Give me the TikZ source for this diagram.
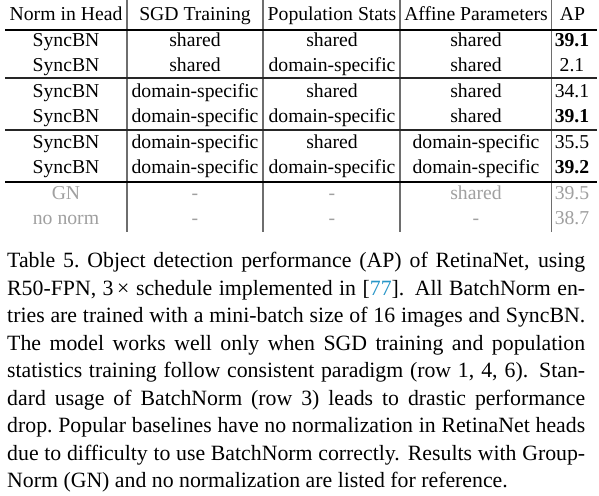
\documentclass[tikz,border=0pt]{standalone}
\usepackage{fontspec}
\setmainfont{Liberation Serif}
\definecolor{citeblue}{RGB}{40,150,200}
\definecolor{dimgray}{RGB}{160,160,160}
\definecolor{vlinegray}{RGB}{110,110,110}
\begin{document}
\begin{tikzpicture}[x=1pt,y=-1pt,
  cell/.style={anchor=base, inner sep=0pt, font=\fontsize{19.7}{24}\selectfont},
  dimcell/.style={cell, text=dimgray},
  capline/.style={anchor=base west, inner sep=0pt, font=\fontsize{21.8}{27.5}\selectfont},
  thickrule/.style={line width=2.4pt, black},
  thinrule/.style={line width=1.1pt, black!85},
  colrule/.style={line width=1.2pt, vlinegray}]
\useasboundingbox (0,0) rectangle (599,495);
\fill[white] (0,0) rectangle (599,495);

% column separators
\draw[colrule] (127,0) -- (127,232);
\draw[colrule] (263,0) -- (263,232);
\draw[colrule] (400,0) -- (400,232);
\draw[colrule] (551.5,0) -- (551.5,232);

% horizontal rules
\draw[thickrule] (5,30) -- (597,30);
\draw[thinrule] (5,78) -- (597,78);
\draw[thinrule] (5,130) -- (597,130);
\draw[thickrule] (5,182) -- (597,182);

% header
\node[cell] (h1) at (66,20.5) {Norm in Head};
\node[cell] (h2) at (195,20.5) {SGD Training};
\node[cell] (h3) at (332,20.5) {Population Stats};
\node[cell] (h4) at (476,20.5) {Affine Parameters};
\node[cell] (h5) at (572.5,20.5) {AP};

% row 1
\node[cell] (r1c1) at (66,46) {SyncBN};
\node[cell] (r1c2) at (195,46) {shared};
\node[cell] (r1c3) at (332,46) {shared};
\node[cell] (r1c4) at (476,46) {shared};
\node[cell] (r1c5) at (572,46) {\textbf{39.1}};
% row 2
\node[cell] (r2c1) at (66,71.5) {SyncBN};
\node[cell] (r2c2) at (195,71.5) {shared};
\node[cell] (r2c3) at (332,71.5) {domain-specific};
\node[cell] (r2c4) at (476,71.5) {shared};
\node[cell] (r2c5) at (572,71.5) {2.1};
% row 3
\node[cell] (r3c1) at (66,97.5) {SyncBN};
\node[cell] (r3c2) at (195,97.5) {domain-specific};
\node[cell] (r3c3) at (332,97.5) {shared};
\node[cell] (r3c4) at (476,97.5) {shared};
\node[cell] (r3c5) at (572,97.5) {34.1};
% row 4
\node[cell] (r4c1) at (66,122.5) {SyncBN};
\node[cell] (r4c2) at (195,122.5) {domain-specific};
\node[cell] (r4c3) at (332,122.5) {domain-specific};
\node[cell] (r4c4) at (476,122.5) {shared};
\node[cell] (r4c5) at (572,122.5) {\textbf{39.1}};
% row 5
\node[cell] (r5c1) at (66,148) {SyncBN};
\node[cell] (r5c2) at (195,148) {domain-specific};
\node[cell] (r5c3) at (332,148) {shared};
\node[cell] (r5c4) at (476,148) {domain-specific};
\node[cell] (r5c5) at (572,148) {35.5};
% row 6
\node[cell] (r6c1) at (66,173) {SyncBN};
\node[cell] (r6c2) at (195,173) {domain-specific};
\node[cell] (r6c3) at (332,173) {domain-specific};
\node[cell] (r6c4) at (476,173) {domain-specific};
\node[cell] (r6c5) at (572,173) {\textbf{39.2}};
% row 7
\node[dimcell] (r7c1) at (66,199.5) {GN};
\node[dimcell] (r7c2) at (195,199.5) {-};
\node[dimcell] (r7c3) at (332,199.5) {-};
\node[dimcell] (r7c4) at (476,199.5) {shared};
\node[dimcell] (r7c5) at (572,199.5) {39.5};
% row 8
\node[dimcell] (r8c1) at (66,224.5) {no norm};
\node[dimcell] (r8c2) at (195,224.5) {-};
\node[dimcell] (r8c3) at (332,224.5) {-};
\node[dimcell] (r8c4) at (476,224.5) {-};
\node[dimcell] (r8c5) at (572,224.5) {38.7};

% caption
\node[capline] (cap1) at (7,267.7) {\hbox to 578pt{Table 5.\ Object detection performance (AP) of RetinaNet, using}};
\node[capline] (cap2) at (7,295.2) {\hbox to 578pt{R50-FPN, 3\,× schedule implemented in [{\color{citeblue}77}]. All BatchNorm en-}};
\node[capline] (cap3) at (7,322.7) {\hbox to 578pt{tries are trained with a mini-batch size of 16 images and SyncBN.}};
\node[capline] (cap4) at (7,350.2) {\hbox to 578pt{The model works well only when SGD training and population}};
\node[capline] (cap5) at (7,377.7) {\hbox to 578pt{statistics training follow consistent paradigm (row 1, 4, 6). Stan-}};
\node[capline] (cap6) at (7,405.2) {\hbox to 578pt{dard usage of BatchNorm (row 3) leads to drastic performance}};
\node[capline] (cap7) at (7,432.7) {\hbox to 578pt{drop.\ Popular baselines have no normalization in RetinaNet heads}};
\node[capline] (cap8) at (7,460.2) {\hbox to 578pt{due to difficulty to use BatchNorm correctly. Results with Group-}};
\node[capline] (cap9) at (7,487.7) {Norm (GN) and no normalization are listed for reference.};
\end{tikzpicture}
\end{document}
